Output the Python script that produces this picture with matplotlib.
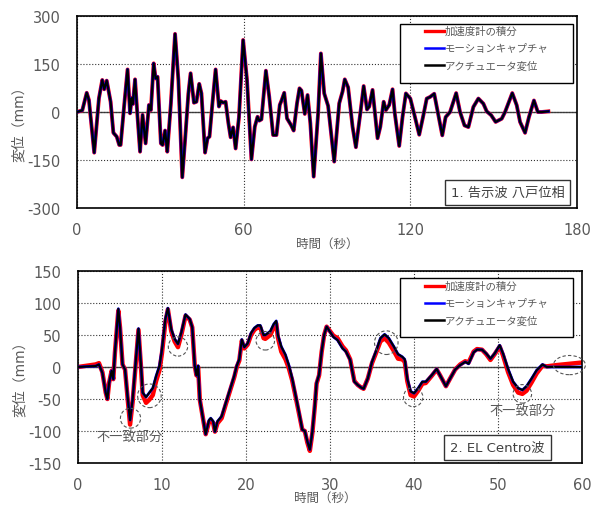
import matplotlib
matplotlib.use("Agg")
import matplotlib.pyplot as plt
from matplotlib.patches import Ellipse, Rectangle
from matplotlib.lines import Line2D

plt.rcParams['font.family'] = ['DejaVu Sans', 'Noto Sans CJK JP']
plt.rcParams['axes.unicode_minus'] = False

# --- 1. 告示波 八戸位相 (時間[s], 変位[mm]) ---
t1 = [0, 1.9, 3.5, 4.3, 6.2, 7.9, 9.1, 9.8, 10.7, 12.1, 13.1, 14.3, 15.2, 15.7, 17.0,
      18.2, 19.1, 19.7, 20.1, 20.9, 21.7, 22.7, 23.6, 24.7, 25.9, 26.6, 27.6, 28.3,
      29.0, 30.2, 30.8, 31.7, 32.5, 33.8, 35.3, 36.5, 37.9, 38.9, 40.1, 40.9, 42.1,
      43.0, 44.0, 44.8, 46.1, 47.0, 47.7, 48.7, 49.9, 51.1, 51.8, 52.6, 53.5, 54.5,
      55.3, 56.2, 57.1, 58.3, 59.8, 61.2, 62.8, 64.0, 65.0, 65.6, 66.4, 68.0, 69.2,
      70.6, 71.8, 73.0, 73.6, 74.6, 75.6, 77.0, 78.0, 79.2, 80.1, 80.8, 82.0, 83.0,
      84.0, 85.2, 86.8, 87.8, 89.0, 90.4, 92.6, 94.4, 95.6, 96.4, 97.6, 99.2, 100.4,
      102.0, 103.2, 104.4, 105.2, 106.4, 108.2, 109.2, 110.4, 111.2, 112.4, 113.6,
      114.4, 116.0, 117.2, 118.4, 120.0, 121.5, 123.2, 124.7, 125.9, 127.1, 128.6,
      130.1, 131.5, 132.7, 134.3, 136.5, 137.9, 139.5, 140.9, 142.7, 144.5, 146.3,
      147.5, 149.1, 150.7, 152.9, 154.1, 156.7, 158.3, 159.5, 161.3, 162.7, 164.5,
      165.9, 167.3, 169.7]
d1 = [0, 5, 60, 37, -127, 43, 100, 71, 98, 32, -65, -77, -103, -103, 22,
      133, -4, 43, 25, 102, -4, -124, -9, -98, 22, 6, 152, 105,
      110, -98, -103, -58, -124, 27, 244, 100, -204, -88, 58, 121, 29,
      32, 88, 58, -127, -82, -77, 22, 133, 17, 34, 29, 32, -35,
      -79, -48, -114, -17, 225, 100, -148, -46, -15, -27, -23, 129, 48,
      -72, -72, 22, 35, 60, -20, -40, -58, 27, 74, 67, -6, 53,
      -35, -202, -4, 183, 58, 19, -155, 27, 64, 102, 77, -46, -110,
      -4, 81, 8, 17, 69, -82, -46, 32, 6, 22, 71,
      -4, -106, -15, 58, 42, -10, -71, -10, 42, 47, 57,
      -10, -73, -16, 0, 59, 0, -42, -47, 16, 42, 26,
      2, -10, -31, -21, 0, 59, 21, -31, -65, -16, 36,
      0, 0, 2]

# --- 2. EL Centro波 ---
t2 = [0, 2.1, 2.5, 2.9, 3.3, 3.5, 3.7, 4.0, 4.2, 4.4, 4.8, 5.0, 5.3, 5.6, 5.9, 6.2,
      6.5, 6.8, 7.2, 7.5, 7.7, 8.1, 8.5, 8.9, 9.3, 9.7, 10.0, 10.4, 10.7, 11.1, 11.5,
      11.9, 12.3, 12.8, 13.3, 13.6, 13.9, 14.1, 14.3, 14.5, 15.2, 15.6, 15.8, 16.1,
      16.3, 16.6, 17.1, 17.6, 18.1, 18.6, 18.9, 19.2, 19.5, 19.8, 20.2, 20.6, 21.0,
      21.4, 21.7, 22.1, 22.3, 22.9, 23.3, 23.6, 23.8, 24.2, 24.7, 25.1, 25.5, 25.9,
      26.3, 26.7, 27.0, 27.3, 27.6, 27.9, 28.2, 28.4, 28.7, 29.0, 29.3, 29.6, 30.0,
      30.4, 30.9, 31.5, 31.9, 32.4, 32.9, 33.3, 33.7, 34.0, 34.5, 35.0, 35.6, 36.0,
      36.5, 37.0, 37.6, 38.1, 38.6, 38.9, 39.2, 39.6, 40.0, 40.5, 41.0, 41.4, 42.1,
      42.7, 43.1, 43.8, 44.3, 44.9, 45.5, 46.1, 46.5, 47.1, 47.5, 48.1, 48.6, 49.1,
      49.6, 50.2, 50.6, 51.2, 51.8, 52.4, 52.9, 53.4, 54.0, 54.6, 55.3, 55.8, 57.0,
      58.5, 60.0]
act2 = [0, 1.5, 4, -9, -40, -50, -25, -6, -19, 23, 91, 62, 4, -4, -46, -83,
        -51, -4, 60, 2, -40, -47, -40, -33, -14, 2, 28, 75, 92, 59, 44,
        36, 54, 82, 75, 62, 2, -13, 2, -51, -105, -83, -80, -85,
        -101, -85, -77, -56, -35, -14, 2, 12, 43, 31, 37, 53, 61,
        65, 65, 50, 50, 56, 67, 72, 50, 32, 19, 3, -18, -44,
        -70, -98, -100, -116, -129, -101, -59, -25, -12, 24, 50, 63, 55,
        47, 42, 29, 24, 11, -23, -28, -32, -34, -18, 8, 29, 45,
        51, 45, 32, 20, 16, 12, -18, -38, -41, -33, -23, -23, -13,
        -3, -13, -30, -18, -4, 3, 8, 5, 23, 27, 27, 21, 13,
        21, 34, 21, -3, -23, -33, -36, -30, -18, -5, 4, 0, 0,
        0, 0]
mocap2 = act2
acc2 = [0, 4, 6, -8, -40, -50, -25, -6, -19, 23, 88, 62, 4, -4, -48, -90,
        -55, -6, 58, 0, -44, -56, -51, -44, -22, -5, 22, 70, 90, 56, 40,
        31, 50, 80, 74, 62, 2, -13, 0, -51, -105, -86, -83, -88,
        -101, -88, -80, -58, -37, -16, 0, 10, 41, 29, 35, 50, 58,
        62, 62, 45, 44, 50, 62, 68, 46, 24, 12, -2, -21, -46,
        -72, -98, -100, -118, -131, -103, -60, -26, -13, 23, 50, 63, 56,
        49, 45, 32, 26, 12, -22, -28, -32, -34, -18, 6, 26, 40,
        45, 38, 25, 13, 12, 8, -22, -44, -46, -37, -26, -25, -14,
        -4, -13, -30, -18, -4, 4, 9, 7, 24, 28, 27, 20, 11,
        20, 32, 18, -8, -28, -40, -42, -37, -24, -10, 2, 1, 3,
        5, 7]

labels = ['加速度計の積分', 'モーションキャプチャ', 'アクチュエータ変位']
# 不一致部分の丸印 (中心t, 中心変位, 幅[s], 高さ[mm])
marks = [(6.25, -80, 2.4, 31), (8.5, -45, 2.8, 37), (11.9, 32, 2.3, 30),
         (22.3, 41, 2.2, 29), (36.7, 38, 2.8, 37), (39.9, -47, 2.3, 30),
         (52.9, -42, 2.2, 29), (58.5, 3, 3.8, 30)]

grey = '#595959'
fig = plt.figure(figsize=(6.01, 5.06), dpi=100)
ax1 = fig.add_axes([77/601, 297/506, 500/601, 192/506])
ax2 = fig.add_axes([78/601, 42/506, 504/601, 192/506])


def style(ax, xt, yt, xlim, ylim):
    ax.set_xlim(*xlim)
    ax.set_ylim(*ylim)
    ax.set_xticks(xt)
    ax.set_yticks(yt)
    ax.grid(True, linestyle=':', color='#333333', linewidth=0.8)
    ax.axhline(0, color='#444444', linewidth=1.0, zorder=1.5)
    ax.tick_params(length=0, labelsize=10.5, labelcolor=grey)
    ax.tick_params(axis='y', pad=12)
    ax.tick_params(axis='x', pad=10)
    for s in ax.spines.values():
        s.set_linewidth(1.2)
        s.set_color('black')
    ax.set_xlabel('時間（秒）', fontsize=9, color=grey)
    ax.set_ylabel('変位（mm）', fontsize=10, color=grey)
    ax.yaxis.set_label_coords(-0.102, 0.46)


def legend_box(ax, x0, x1, y0, y1, lx, ly):
    ax.add_patch(Rectangle((x0, y0), x1 - x0, y1 - y0, transform=ax.transAxes,
                           fill=True, fc='white', ec='black', lw=1.0, zorder=5))
    hs = [Line2D([], [], color='red', lw=2.4),
          Line2D([], [], color='blue', lw=1.8),
          Line2D([], [], color='black', lw=1.8)]
    lg = ax.legend(hs, labels, loc='upper left', bbox_to_anchor=(lx, ly),
                   frameon=False, fontsize=7.5, handlelength=1.8, handletextpad=0.1,
                   labelspacing=0.7, borderpad=0, borderaxespad=0)
    lg.set_zorder(6)
    for tx in lg.get_texts():
        tx.set_color(grey)


style(ax1, [0, 60, 120, 180], [-300, -150, 0, 150, 300], (0, 180), (-300, 300))
ax1.xaxis.set_label_coords(0.5, -0.15)
ax1.plot(t1, d1, color='red', lw=2.8, zorder=2)
ax1.plot(t1, d1, color='blue', lw=2.1, zorder=3)
ax1.plot(t1, d1, color='black', lw=1.6, zorder=4)
legend_box(ax1, 0.646, 0.992, 0.651, 0.958, 0.696, 0.948)
ax1.text(0.861, 0.081, '1. 告示波 八戸位相', transform=ax1.transAxes, fontsize=9.5,
         color='#404040', ha='center', va='center', zorder=7,
         bbox=dict(boxstyle='square,pad=0.45', fc='white', ec='#333333', lw=1.0))

style(ax2, range(0, 61, 10), range(-150, 151, 50), (0, 60), (-150, 150))
ax2.xaxis.set_label_coords(0.49, -0.145)
ax2.plot(t2, acc2, color='red', lw=3.2, zorder=2)
ax2.plot(t2, mocap2, color='blue', lw=2.0, zorder=3)
ax2.plot(t2, act2, color='black', lw=1.5, zorder=4)
for cx, cy, w, h in marks:
    ax2.add_patch(Ellipse((cx, cy), w, h, fill=False, ec='#555555', lw=0.8,
                          linestyle=(0, (3, 2)), zorder=5, clip_on=False))
ax2.text(6.1, -110, '不一致部分', fontsize=9.5, color=grey, ha='center', va='center')
ax2.text(52.9, -69, '不一致部分', fontsize=9.5, color=grey, ha='center', va='center')
legend_box(ax2, 0.639, 0.982, 0.656, 0.964, 0.689, 0.948)
ax2.text(0.832, 0.083, '2. EL Centro波', transform=ax2.transAxes, fontsize=9.5,
         color='#404040', ha='center', va='center', zorder=7,
         bbox=dict(boxstyle='square,pad=0.45', fc='white', ec='#333333', lw=1.0))

fig.savefig('out.png', dpi=100)
